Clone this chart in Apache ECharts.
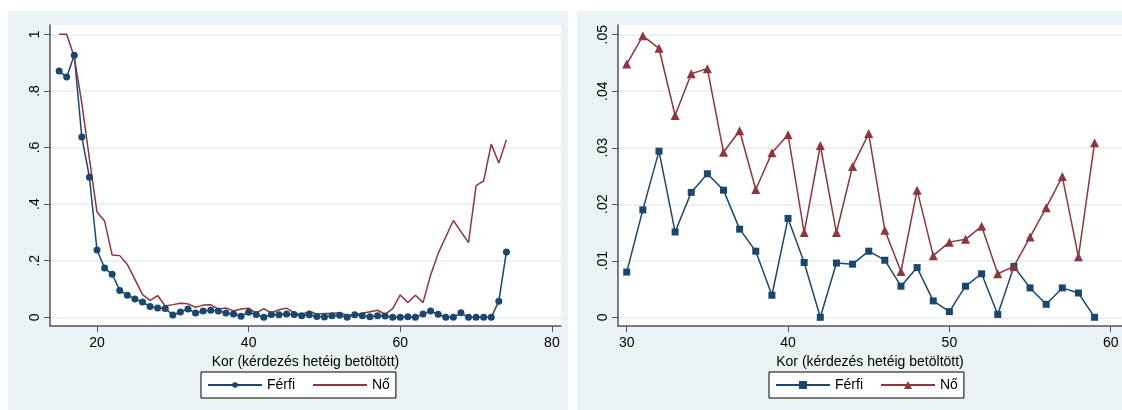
<!DOCTYPE html>
<html>
<head>
<meta charset="utf-8">
<script src="https://cdn.jsdelivr.net/npm/echarts@6/dist/echarts.min.js"></script>
<style>
  html, body { margin: 0; padding: 0; background: #fff; }
  .panel { position: absolute; top: 11px; height: 399px; background: #eaf2f3; }
  #left { left: 8px; width: 560px; }
  #right { left: 577px; width: 545px; }
</style>
</head>
<body>
<div id="left" class="panel"></div>
<div id="right" class="panel"></div>
<script>
// ages (x values)
const agesLeft = [15, 16, 17, 18, 19, 20, 21, 22, 23, 24, 25, 26, 27, 28, 29,
  30, 31, 32, 33, 34, 35, 36, 37, 38, 39, 40, 41, 42, 43, 44,
  45, 46, 47, 48, 49, 50, 51, 52, 53, 54, 55, 56, 57, 58, 59,
  60, 61, 62, 63, 64, 65, 66, 67, 68, 69, 70, 71, 72, 73, 74];
const agesRight = [30, 31, 32, 33, 34, 35, 36, 37, 38, 39, 40, 41, 42, 43, 44,
  45, 46, 47, 48, 49, 50, 51, 52, 53, 54, 55, 56, 57, 58, 59];

// 15-29
const ferfiYoung = [0.870, 0.849, 0.926, 0.637, 0.495, 0.238, 0.174, 0.152, 0.095, 0.078, 0.065, 0.054, 0.038, 0.033, 0.031];
const noYoung = [1, 1, 0.92, 0.756, 0.56, 0.372, 0.34, 0.22, 0.218, 0.187, 0.134, 0.08, 0.06, 0.077, 0.04];
// 30-59 (right panel is a zoom of this range)
const ferfiMid = [0.008, 0.019, 0.0294, 0.0151, 0.0221, 0.0254, 0.0225, 0.0156, 0.0117, 0.0039,
  0.0175, 0.0097, 0, 0.0096, 0.0094, 0.0117, 0.0101, 0.0055, 0.0088, 0.0029,
  0.001, 0.0055, 0.0077, 0.0005, 0.009, 0.0052, 0.0023, 0.0052, 0.0043, 0];
const noMid = [0.0448, 0.0498, 0.0476, 0.0357, 0.0431, 0.044, 0.0292, 0.033, 0.0226, 0.0291,
  0.0323, 0.015, 0.0304, 0.015, 0.0267, 0.0325, 0.0154, 0.0081, 0.0225, 0.0109,
  0.0133, 0.0138, 0.0161, 0.0077, 0.009, 0.0142, 0.0194, 0.0249, 0.0107, 0.0309];
// 60-74
const ferfiOld = [0, 0.002, 0, 0.012, 0.022, 0.011, 0, 0, 0.016, 0, 0, 0, 0, 0.057, 0.231];
const noOld = [0.079, 0.052, 0.078, 0.052, 0.149, 0.226, 0.284, 0.342, 0.303, 0.264, 0.465, 0.482, 0.612, 0.545, 0.627];

const xTicksLeft = [20, 40, 60, 80];
const yTicksLeft = [0, 0.2, 0.4, 0.6, 0.8, 1];
const xTicksRight = [30, 40, 50, 60];
const yTicksRight = [0, 0.01, 0.02, 0.03, 0.04, 0.05];

const blue = "#1a476f";
const red = "#90353b";
const axisColor = "#555";
const xName = "Kor (kérdezés hetéig betöltött)";

function pairs(xs, ys) {
  return xs.map((x, i) => [x, ys[i]]);
}

function stataLabel(v) {
  if (v === 0) return "0";
  return String(v).replace(/^0/, "");
}

function buildOption(cfg) {
  return {
    animation: false,
    textStyle: { fontFamily: "Liberation Sans, Arial, sans-serif" },
    grid: {
      left: cfg.grid.left, top: 14, width: cfg.grid.width, height: 301,
      show: true, backgroundColor: "#fff", borderWidth: 0
    },
    legend: {
      left: cfg.legendLeft, top: 361,
      data: cfg.legendData,
      backgroundColor: "#fff", borderColor: "#000", borderWidth: 1,
      padding: [6, 6], itemGap: 17, itemWidth: 54, itemHeight: cfg.legendItemHeight,
      textStyle: { fontSize: 14, color: "#000" }
    },
    xAxis: {
      type: "value", min: cfg.xMin, max: cfg.xMax,
      name: xName, nameLocation: "middle", nameGap: 21,
      nameTextStyle: { fontSize: 14, color: "#000" },
      axisLine: { show: true, onZero: false, lineStyle: { color: axisColor, width: 1.5 } },
      axisTick: { show: true, customValues: cfg.xTicks, length: 6, lineStyle: { color: axisColor } },
      axisLabel: { customValues: cfg.xTicks, fontSize: 14, color: "#000", margin: 10 },
      splitLine: { show: false }
    },
    yAxis: {
      type: "value", min: cfg.yMin, max: cfg.yMax,
      axisLine: { show: true, onZero: false, lineStyle: { color: axisColor, width: 1.5 } },
      axisTick: { show: true, customValues: cfg.yTicks, length: 6, lineStyle: { color: axisColor } },
      axisLabel: { customValues: cfg.yTicks, rotate: 90, fontSize: 14, color: "#000", margin: 8, formatter: stataLabel },
      splitLine: { show: true, lineStyle: { color: "#e6eef0", width: 1.5 } }
    },
    series: cfg.series
  };
}

const leftChart = echarts.init(document.getElementById("left"));
leftChart.setOption(buildOption({
  grid: { left: 42, width: 511 },
  legendLeft: 193,
  legendItemHeight: 7,
  legendData: ["Férfi", { name: "Nő", itemStyle: { opacity: 0 } }],
  xMin: 13.8, xMax: 81.2, xTicks: xTicksLeft,
  yMin: -0.0307, yMax: 1.033, yTicks: yTicksLeft,
  series: [
    {
      name: "Férfi", type: "line",
      data: pairs(agesLeft, ferfiYoung.concat(ferfiMid, ferfiOld)),
      symbol: "circle", symbolSize: 7,
      lineStyle: { color: blue, width: 1.5 }, itemStyle: { color: blue }
    },
    {
      name: "Nő", type: "line",
      data: pairs(agesLeft, noYoung.concat(noMid, noOld)),
      symbol: "none",
      lineStyle: { color: red, width: 1.5 }, itemStyle: { color: red }
    }
  ]
}));

const rightChart = echarts.init(document.getElementById("right"));
rightChart.setOption(buildOption({
  grid: { left: 41, width: 504 },
  legendLeft: 192,
  legendItemHeight: 10,
  legendData: ["Férfi", "Nő"],
  xMin: 29.46, xMax: 60.7, xTicks: xTicksRight,
  yMin: -0.00154, yMax: 0.05172, yTicks: yTicksRight,
  series: [
    {
      name: "Férfi", type: "line",
      data: pairs(agesRight, ferfiMid),
      symbol: "rect", symbolSize: 7,
      lineStyle: { color: blue, width: 1.5 }, itemStyle: { color: blue }
    },
    {
      name: "Nő", type: "line",
      data: pairs(agesRight, noMid),
      symbol: "triangle", symbolSize: 9,
      lineStyle: { color: red, width: 1.5 }, itemStyle: { color: red }
    }
  ]
}));
</script>
</body>
</html>
